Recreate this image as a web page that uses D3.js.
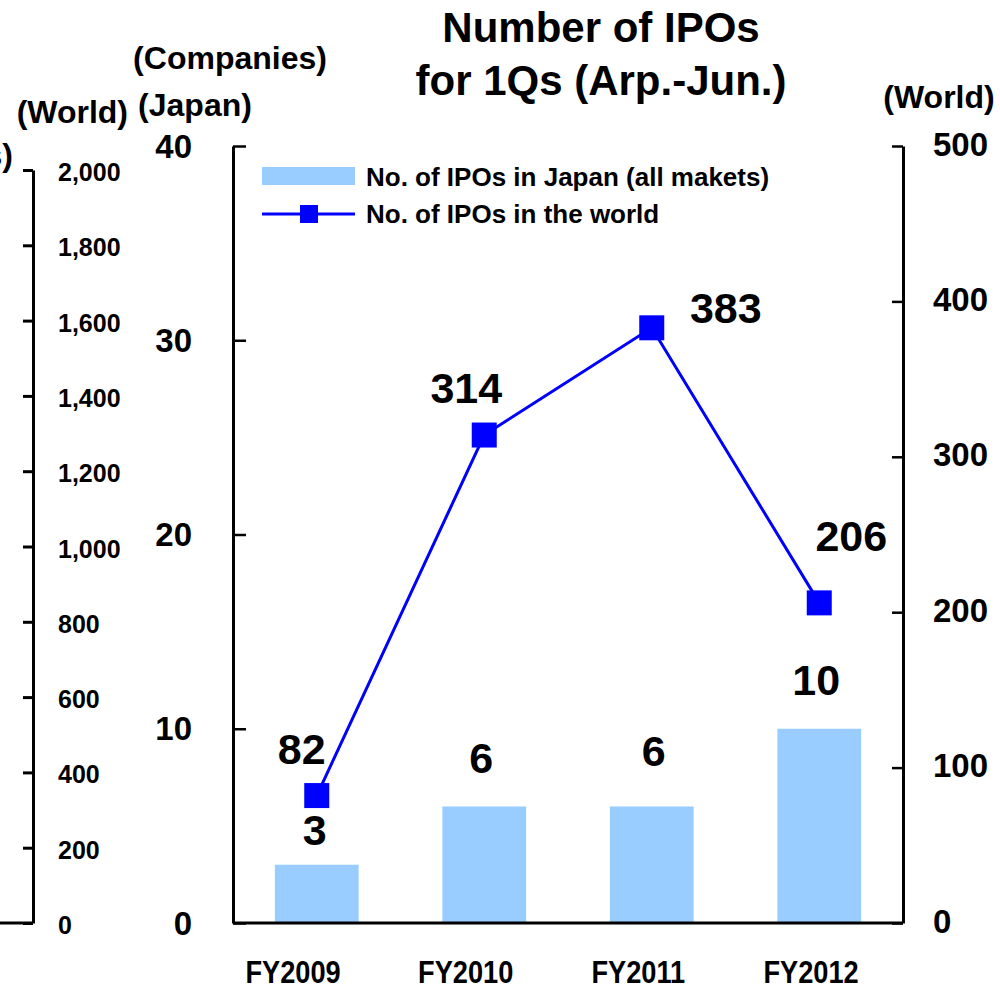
<!DOCTYPE html>
<html><head><meta charset="utf-8">
<script src="https://cdn.jsdelivr.net/npm/d3@7"></script>
<style>
body{margin:0;background:#fff}
svg text{font-family:"Liberation Sans",Arial,sans-serif;font-weight:bold;fill:#000}
</style>
</head><body><svg id="c" width="1000" height="988"></svg>
<script>
// ---- data ----
const categories = ["FY2009", "FY2010", "FY2011", "FY2012"];
const japanIPOs = [3, 6, 6, 10];
const worldIPOs = [82, 314, 383, 206];
const leftTicks = [0, 10, 20, 30, 40];
const rightTicks = [0, 100, 200, 300, 400, 500];
const outerTicks = [0, 200, 400, 600, 800, 1000, 1200, 1400, 1600, 1800, 2000];
const legendLabels = ["No. of IPOs in Japan (all makets)", "No. of IPOs in the world"];
const titleLines = ["Number of IPOs", "for 1Qs (Arp.-Jun.)"];

// label layout offsets (pixels, manual placement as in the original)
const japanLabelOffset = [[-2, -35], [-3, -48], [2, -55], [-3, -49]];
const worldLabelOffset = [[-15, -47], [-18, -47], [74, -20], [32, -67]];

const svg = d3.select("#c");
const X0 = 233, X1 = 903, Y0 = 923, YT = 146;

const x = d3.scaleBand().domain(categories).range([X0, X1]).paddingInner(0.5).paddingOuter(0.25);
// category labels sit on their own slightly shifted point scale (as in the original)
const xLab = d3.scalePoint().domain(categories).range([293, 811]);
const yL = d3.scaleLinear().domain([0, 40]).range([Y0, YT]);
const yR = d3.scaleLinear().domain([0, 500]).range([Y0, YT]);
const yO = d3.scaleLinear().domain([0, 2000]).range([Y0, 170]);

function txt(g, s, px, py, size, anchor, sx) {
  return g.append("text")
    .attr("transform", `translate(${px},${py}) scale(${sx || 1},1)`)
    .attr("text-anchor", anchor || "middle")
    .attr("dominant-baseline", "central")
    .style("font-size", size + "px")
    .text(s);
}

// ---- outer (clipped) world axis on the far left ----
const gO = svg.append("g").attr("transform", "translate(33,0)");
gO.call(d3.axisLeft(yO).tickValues(outerTicks).tickSize(10).tickSizeOuter(0).tickFormat(d3.format(",")));
gO.select(".domain").attr("stroke", "#000").attr("stroke-width", 3);
gO.selectAll(".tick line").attr("stroke", "#000").attr("stroke-width", 3);
gO.selectAll(".tick text").attr("x", 25).attr("dy", "0.42em").attr("text-anchor", "start")
  .attr("font-size", null).attr("font-family", null)
  .style("font-size", "25px").style("font-family", "'Liberation Sans',Arial,sans-serif").style("font-weight", "bold");
gO.attr("font-size", null).attr("font-family", null);
svg.append("line").attr("x1", 0).attr("x2", 33).attr("y1", Y0).attr("y2", Y0)
  .attr("stroke", "#000").attr("stroke-width", 3);
txt(svg, "(World)", 128, 112, 32, "end");
txt(svg, "(Companies)", 13, 155, 32, "end");

// ---- bars ----
svg.append("g").selectAll("rect").data(japanIPOs).join("rect")
  .attr("x", (d, i) => x(categories[i]))
  .attr("width", x.bandwidth())
  .attr("y", d => yL(d))
  .attr("height", d => Y0 - yL(d))
  .attr("fill", "#99CCFF");

// ---- left axis (Japan) ----
const gL = svg.append("g").attr("transform", `translate(${X0},0)`);
gL.call(d3.axisRight(yL).tickValues(leftTicks).tickSize(13).tickSizeOuter(0).tickFormat(""));
gL.select(".domain").attr("stroke", "#000").attr("stroke-width", 3);
gL.selectAll(".tick line").attr("stroke", "#000").attr("stroke-width", 2.5);
leftTicks.forEach(t => txt(svg, String(t), 192, yL(t), 33, "end"));

// ---- right axis (World) ----
const gR = svg.append("g").attr("transform", `translate(${X1},0)`);
gR.call(d3.axisLeft(yR).tickValues(rightTicks).tickSize(11).tickSizeOuter(0).tickFormat(""));
gR.select(".domain").attr("stroke", "#000").attr("stroke-width", 3);
gR.selectAll(".tick line").attr("stroke", "#000").attr("stroke-width", 2.5);
rightTicks.forEach(t => txt(svg, String(t), 933, yR(t) - 2, 33, "start"));

// ---- x axis ----
svg.append("line").attr("x1", X0).attr("x2", X1).attr("y1", Y0).attr("y2", Y0)
  .attr("stroke", "#000").attr("stroke-width", 3);
categories.forEach(c => txt(svg, c, xLab(c), 972, 32, "middle", 0.85));

// ---- line series ----
const cx = i => x(categories[i]) + x.bandwidth() / 2;
const line = d3.line().x((d, i) => cx(i)).y(d => yR(d));
svg.append("path").datum(worldIPOs).attr("d", line)
  .attr("fill", "none").attr("stroke", "#0000FF").attr("stroke-width", 3);
svg.append("g").selectAll("rect").data(worldIPOs).join("rect")
  .attr("x", (d, i) => cx(i) - 12.5).attr("y", d => yR(d) - 12.5)
  .attr("width", 25).attr("height", 25).attr("fill", "#0000FF");

// ---- data labels ----
japanIPOs.forEach((v, i) => txt(svg, String(v), cx(i) + japanLabelOffset[i][0], yL(v) + japanLabelOffset[i][1], 43, "middle"));
worldIPOs.forEach((v, i) => txt(svg, String(v), cx(i) + worldLabelOffset[i][0], yR(v) + worldLabelOffset[i][1], 43, "middle"));

// ---- axis titles & title ----
txt(svg, "(Companies)", 230, 58, 32, "middle");
txt(svg, "(Japan)", 195, 105, 32, "middle");
txt(svg, "(World)", 939, 97, 32, "middle");
txt(svg, titleLines[0], 601, 27, 42, "middle");
txt(svg, titleLines[1], 601, 80, 42, "middle");

// ---- legend ----
svg.append("rect").attr("x", 262).attr("y", 167).attr("width", 93).attr("height", 18).attr("fill", "#99CCFF");
svg.append("line").attr("x1", 262).attr("x2", 355).attr("y1", 214).attr("y2", 214)
  .attr("stroke", "#0000FF").attr("stroke-width", 3);
svg.append("rect").attr("x", 300).attr("y", 205).attr("width", 18).attr("height", 18).attr("fill", "#0000FF");
txt(svg, legendLabels[0], 366, 177, 26, "start");
txt(svg, legendLabels[1], 366, 214, 26, "start");
</script></body></html>
